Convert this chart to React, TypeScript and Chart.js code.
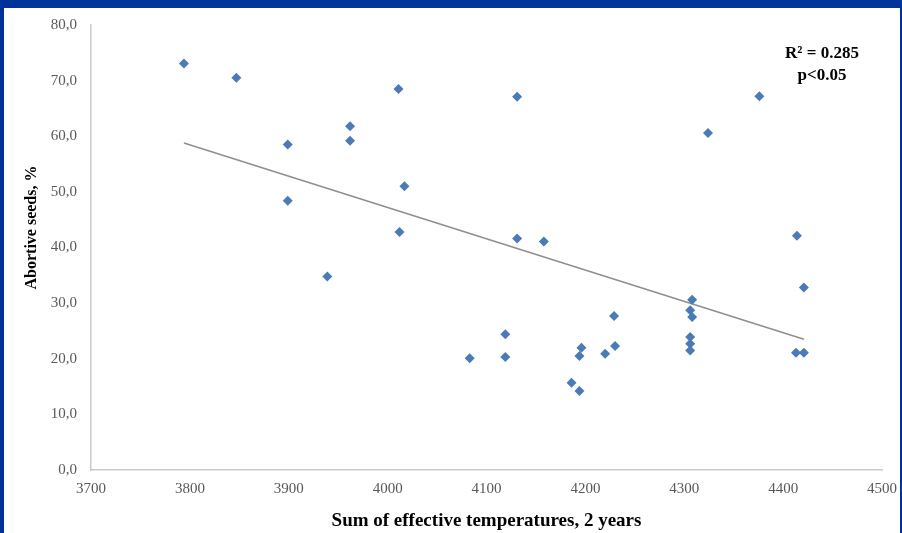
import React, { useEffect, useRef } from "react";
import { Chart, registerables } from "chart.js";

Chart.register(...registerables);

// Sum of effective temperatures (x) and abortive seeds, % (y)
const sumTemps = [
  3794, 3847, 3899, 3899, 3939, 3962, 3962, 4011, 4012, 4017,
  4083, 4119, 4119, 4131, 4131, 4158, 4186, 4194, 4194, 4196,
  4220, 4230, 4229, 4308, 4306, 4308, 4306, 4306, 4306, 4324,
  4376, 4414, 4421, 4413, 4421,
];
const abortiveSeeds = [
  73.1, 70.5, 58.5, 48.4, 34.8, 61.8, 59.2, 68.5, 42.8, 51.0,
  20.1, 24.4, 20.3, 67.1, 41.6, 41.1, 15.7, 14.2, 20.5, 22.0,
  20.9, 22.3, 27.7, 30.6, 28.7, 27.5, 23.9, 22.7, 21.5, 60.6,
  67.2, 42.1, 32.8, 21.1, 21.1,
];

// Linear trend line end points
const trendX = [3794, 4421];
const trendY = [58.8, 23.5];

const xTickValues = [3700, 3800, 3900, 4000, 4100, 4200, 4300, 4400, 4500];
const yTickValues = [0, 10, 20, 30, 40, 50, 60, 70, 80];

const xTitle = "Sum of effective temperatures, 2 years";
const yTitle = "Abortive seeds, %";
const annotationLines = ["R² = 0.285", "p<0.05"];

const SERIF = '"Liberation Serif", "Times New Roman", serif';

const textPlugin = {
  id: "customTexts",
  afterDraw(chart: any) {
    const { ctx, chartArea } = chart;
    ctx.save();
    ctx.fillStyle = "#000000";
    ctx.textAlign = "center";
    ctx.textBaseline = "middle";

    // x axis title
    ctx.font = `bold 19px ${SERIF}`;
    ctx.fillText(xTitle, (chartArea.left + chartArea.right) / 2, chartArea.bottom + 51);

    // y axis title
    ctx.save();
    ctx.translate(chartArea.left - 59, (chartArea.top + chartArea.bottom) / 2 - 20);
    ctx.rotate(-Math.PI / 2);
    ctx.font = `bold 16px ${SERIF}`;
    ctx.fillText(yTitle, 0, 0);
    ctx.restore();

    // annotation
    ctx.font = `bold 17px ${SERIF}`;
    ctx.fillText(annotationLines[0], chartArea.right - 60, chartArea.top + 29);
    ctx.fillText(annotationLines[1], chartArea.right - 60, chartArea.top + 51);
    ctx.restore();
  },
};

function ScatterChart() {
  const canvasRef = useRef<HTMLCanvasElement | null>(null);

  useEffect(() => {
    if (!canvasRef.current) return;
    const points = sumTemps.map((x, i) => ({ x, y: abortiveSeeds[i] }));
    const trend = trendX.map((x, i) => ({ x, y: trendY[i] }));

    const chart = new Chart(canvasRef.current, {
      type: "scatter",
      data: {
        datasets: [
          {
            label: "Abortive seeds",
            data: points,
            pointStyle: "rectRot",
            pointRadius: 5,
            pointBackgroundColor: "#4a7bb7",
            pointBorderColor: "#4a7bb7",
            pointBorderWidth: 0,
            showLine: false,
            order: 1,
          },
          {
            label: "Trend",
            type: "line",
            data: trend,
            borderColor: "#8f8f8f",
            borderWidth: 1.6,
            pointRadius: 0,
            fill: false,
            showLine: true,
            order: 2,
          } as any,
        ],
      },
      options: {
        animation: false,
        responsive: false,
        maintainAspectRatio: false,
        devicePixelRatio: 1,
        layout: { padding: { top: 17, right: 18, left: 0, bottom: 0 } },
        plugins: {
          legend: { display: false },
          tooltip: { enabled: false },
          title: { display: false },
        },
        scales: {
          x: {
            type: "linear",
            min: 3700,
            max: 4500,
            afterBuildTicks: (scale: any) => {
              scale.ticks = xTickValues.map((v) => ({ value: v }));
            },
            afterFit: (scale: any) => {
              scale.height = 63;
              scale.paddingLeft = 0;
              scale.paddingRight = 0;
              scale.paddingTop = 0;
              scale.paddingBottom = 0;
            },
            grid: { display: false, drawTicks: false },
            border: { display: true, color: "#c9c9c9", width: 1.5 },
            ticks: {
              color: "#595959",
              font: { family: SERIF, size: 15 },
              padding: 10,
              maxRotation: 0,
              autoSkip: false,
              callback: (v: any) => String(v),
            },
          },
          y: {
            type: "linear",
            min: 0,
            max: 80,
            afterBuildTicks: (scale: any) => {
              scale.ticks = yTickValues.map((v) => ({ value: v }));
            },
            afterFit: (scale: any) => {
              scale.width = 87;
              scale.paddingLeft = 0;
              scale.paddingRight = 0;
              scale.paddingTop = 0;
              scale.paddingBottom = 0;
            },
            grid: { display: false, drawTicks: false },
            border: { display: true, color: "#c9c9c9", width: 1.5 },
            ticks: {
              color: "#595959",
              font: { family: SERIF, size: 15 },
              padding: 14,
              autoSkip: false,
              callback: (v: any) => Number(v).toFixed(1).replace(".", ","),
            },
          },
        },
      },
      plugins: [textPlugin],
    });

    return () => chart.destroy();
  }, []);

  return (
    <canvas
      ref={canvasRef}
      width={896}
      height={525}
      style={{ display: "block", width: 896, height: 525 }}
    />
  );
}

export default function App() {
  return (
    <div
      style={{
        position: "fixed",
        left: 0,
        top: 0,
        width: 902,
        height: 533,
        background: "#003399",
        overflow: "hidden",
      }}
    >
      <div
        style={{
          position: "absolute",
          left: 4,
          top: 8,
          width: 896,
          height: 525,
          background: "#ffffff",
        }}
      >
        <ScatterChart />
      </div>
    </div>
  );
}
